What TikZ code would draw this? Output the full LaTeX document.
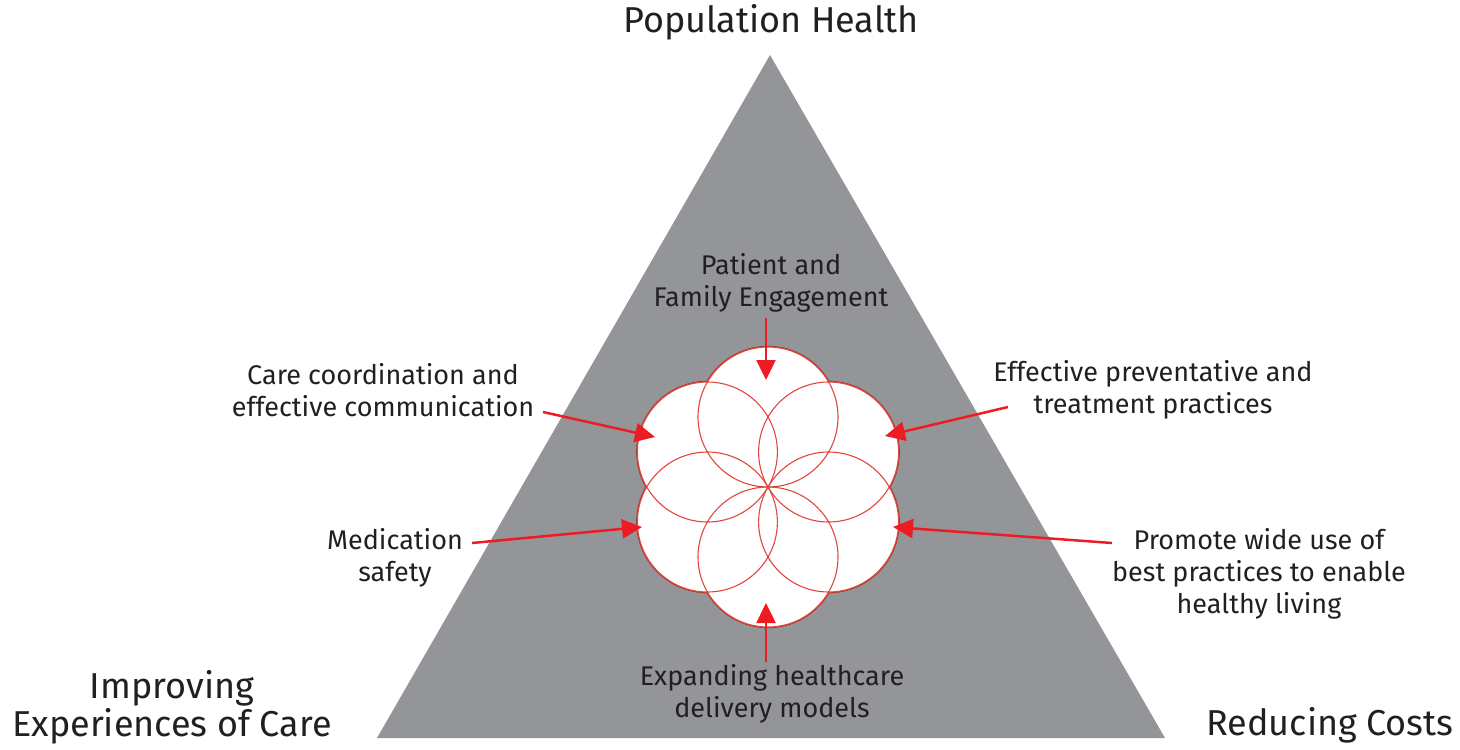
\documentclass[tikz,border=0pt]{standalone}
\usepackage{fontspec}
\setmainfont{Fira Sans}
\usetikzlibrary{arrows.meta}
\definecolor{pyramid}{HTML}{939598}
\definecolor{ink}{HTML}{231F20}
\definecolor{arrowred}{HTML}{ED1C24}
\definecolor{petal}{HTML}{E2473E}
\definecolor{petaledge}{HTML}{A8352E}

\begin{document}
\begin{tikzpicture}[x=1pt,y=-1pt]
\tikzstyle{hlabel} = [text=ink,align=center,font=\fontsize{27}{32}\selectfont,inner sep=0pt]
\tikzstyle{corner} = [text=ink,align=center,font=\fontsize{36}{38}\selectfont,inner sep=0pt]
\tikzstyle{pointer} = [arrowred,line width=2.5pt,arrows={-Triangle[length=20pt,width=19pt]}]
\useasboundingbox (0,0) rectangle (1460,750);

\fill[pyramid] (770,55) -- (1165,738) -- (377,738) -- cycle;

% six petals round the centre
\coordinate (c) at (768,487);
\foreach \a in {90,30,...,-210}
  \draw[petaledge,line width=2.4pt] (c) ++(\a:70) circle (70pt);
\foreach \a in {90,30,...,-210}
  \fill[white] (c) ++(\a:70) circle (70pt);
\foreach \a in {90,30,...,-210}
  \draw[petal,line width=1.1pt] (c) ++(\a:70) circle (70pt);

\node[corner] (ph) at (771,22) {Population Health};
\node[corner] (iec) at (172,707) {Improving\\Experiences of Care};
\node[corner] (rc) at (1330,725) {Reducing Costs};

\node[hlabel] (pfe) at (771,283) {Patient and\\Family Engagement};
\node[hlabel] (cce) at (383,390) {Care coordination and\\effective communication};
\node[hlabel] (ept) at (1153,390) {Effective preventative and\\treatment practices};
\node[hlabel] (med) at (395,558) {Medication\\safety};
\node[hlabel] (pwu) at (1259,574) {Promote wide use of\\best practices to enable\\healthy living};
\node[hlabel] (ehd) at (772,694) {Expanding healthcare\\delivery models};

% arrow ends
\coordinate (pfe-from) at (766,318);
\coordinate (pfe-to) at (766,380);
\coordinate (cce-from) at (543,412);
\coordinate (cce-to) at (655,437);
\coordinate (med-from) at (472,543);
\coordinate (med-to) at (642,527);
\coordinate (ept-from) at (1008,407);
\coordinate (ept-to) at (885,436);
\coordinate (pwu-from) at (1112,543);
\coordinate (pwu-to) at (893,527);
\coordinate (ehd-from) at (766,662);
\coordinate (ehd-to) at (766,603);

\draw[pointer] (pfe-from) -- (pfe-to);
\draw[pointer] (cce-from) -- (cce-to);
\draw[pointer] (med-from) -- (med-to);
\draw[pointer] (ept-from) -- (ept-to);
\draw[pointer] (pwu-from) -- (pwu-to);
\draw[pointer] (ehd-from) -- (ehd-to);
\end{tikzpicture}
\end{document}
